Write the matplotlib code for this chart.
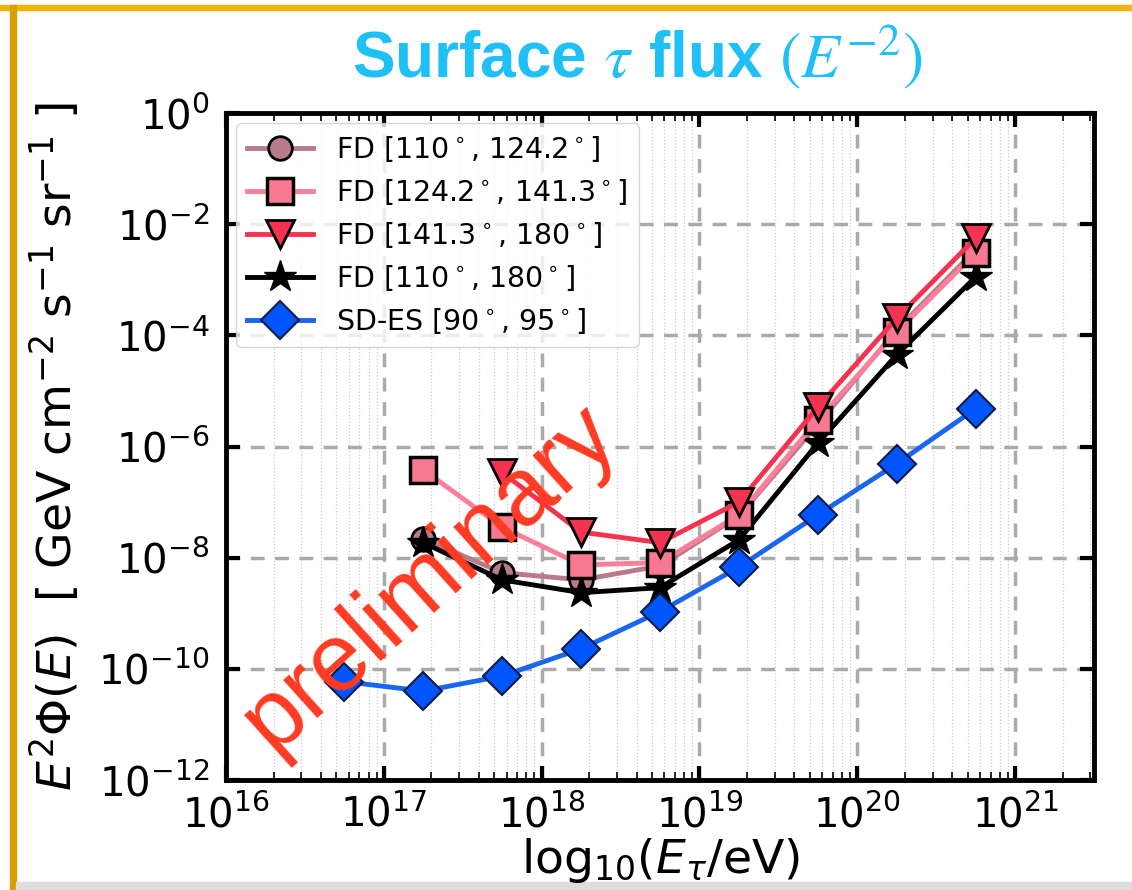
import numpy as np
import matplotlib
matplotlib.use("Agg")
import matplotlib.pyplot as plt
from matplotlib.patches import Rectangle
from matplotlib.ticker import LogLocator, NullLocator

# energies (eV) at bin centres
energy = [10**16.75, 10**17.25, 10**17.75, 10**18.25, 10**18.75,
          10**19.25, 10**19.75, 10**20.25, 10**20.75]

# E^2 Phi limits, log10
fd_low = [None, -7.66, -8.27, -8.40, -8.15, -7.25, -5.60, -3.90, -2.46]
fd_mid = [None, -6.42, -7.45, -8.13, -8.09, -7.23, -5.52, -3.94, -2.52]
fd_high = [None, None, -6.47, -7.54, -7.73, -7.00, -5.29, -3.69, -2.25]
fd_all = [None, -7.73, -8.40, -8.63, -8.54, -7.68, -5.94, -4.35, -2.95]
sd_es = [-10.23, -10.40, -10.13, -9.64, -8.97, -8.17, -7.23, -6.31, -5.32]

labels = [r"FD [110$^\circ$, 124.2$^\circ$]",
          r"FD [124.2$^\circ$, 141.3$^\circ$]",
          r"FD [141.3$^\circ$, 180$^\circ$]",
          r"FD [110$^\circ$, 180$^\circ$]",
          r"SD-ES [90$^\circ$, 95$^\circ$]"]


def pts(vals):
    x = [e for e, v in zip(energy, vals) if v is not None]
    y = [10**v for v in vals if v is not None]
    return x, y


fig = plt.figure(figsize=(11.32, 8.9), dpi=100)
ax = fig.add_axes([226/1132, 1-780/890, (1094-226)/1132, (780-113)/890])

x, y = pts(fd_low)
ax.plot(x, y, '-o', color='#b97b87', mfc='#b97b87', mec='black', mew=2,
        ms=17, lw=3.5, label=labels[0], zorder=3)
x, y = pts(fd_mid)
ax.plot(x, y, '-s', color='#fb7f98', mfc='#f87892', mec='black', mew=2.5,
        ms=19, lw=3.5, label=labels[1], zorder=5)
x, y = pts(fd_high)
ax.plot(x, y, '-v', color='#f5324f', mfc='#f5324f', mec='black', mew=2,
        ms=20, lw=3.5, label=labels[2], zorder=6)
x, y = pts(fd_all)
ax.plot(x, y, '-*', color='black', mfc='black', mec='black', mew=1,
        ms=24, lw=3.5, label=labels[3], zorder=4)
x, y = pts(sd_es)
ax.plot(x, y, '-D', color='#1a66f0', mfc='#0055ff', mec='#0a1a40', mew=1.5,
        ms=19, lw=3.5, label=labels[4], zorder=4.5)

ax.set_xscale('log')
ax.set_yscale('log')
ax.set_xlim(1e16, 10**21.5)
ax.set_ylim(1e-12, 1)
ax.set_xticks([1e16, 1e17, 1e18, 1e19, 1e20, 1e21])
ax.xaxis.set_minor_locator(LogLocator(base=10, subs=np.arange(2, 10), numticks=20))
ax.set_yticks([1e-12, 1e-10, 1e-8, 1e-6, 1e-4, 1e-2, 1])
ax.yaxis.set_minor_locator(NullLocator())

ax.grid(True, which='major', color='#aaaaaa', ls=(0, (4, 3)), lw=2.5, zorder=0)
ax.grid(True, which='minor', axis='x', color='#cccccc', ls=':', lw=0.9, zorder=0)

ax.tick_params(which='major', direction='in', length=10, width=3,
               top=True, right=True, labelsize=29)
ax.tick_params(axis='x', which='major', pad=11)
ax.tick_params(axis='y', which='major', pad=12)
ax.tick_params(which='minor', direction='in', length=6, width=1.2,
               top=True, right=True)
for s in ax.spines.values():
    s.set_linewidth(3.5)

ax.set_xlabel(r"log$_{10}$($E_{\tau}$/eV)", fontsize=34, labelpad=0)
ax.set_ylabel(r"$E^2\Phi(E)$  [ GeV cm$^{-2}$ s$^{-1}$ sr$^{-1}$ ]",
              fontsize=34, labelpad=12)

leg = ax.legend(loc='upper left', fontsize=20.5, handlelength=2.3,
                borderaxespad=0.35, labelspacing=0.45, fancybox=True,
                framealpha=0.8, edgecolor='#cccccc')

fig.text(637/1132, 1-57/890, r"Surface $\tau$ flux $(E^{-2})$",
         color='#1ec0f5', fontsize=46, fontweight='bold',
         family='Liberation Sans', math_fontfamily='stix',
         ha='center', va='center')

ax.text(430, 890-578, "preliminary", transform=None, color='#ff3a22',
        fontsize=69, family='Liberation Sans', rotation=42,
        rotation_mode='anchor', ha='center', va='center', zorder=10)

# slide frame
fig.patches.append(Rectangle((0, 1-10/890), 1, 5/890, transform=fig.transFigure,
                             color='#efb500', zorder=-1))
fig.patches.append(Rectangle((10/1132, 0), 6/1132, 1-5/890, transform=fig.transFigure,
                             color='#d6a000', zorder=-1))
fig.patches.append(Rectangle((16/1132, 0), 1, 8/890, transform=fig.transFigure,
                             color='#dddddd', zorder=-1))

fig.savefig("out.png", dpi=100)
